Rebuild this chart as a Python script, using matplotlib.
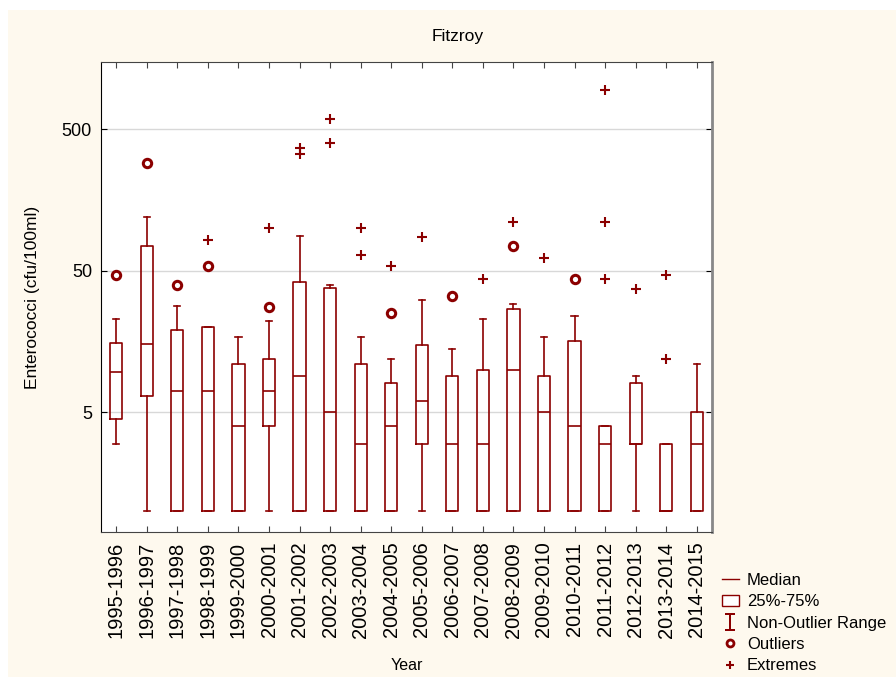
import matplotlib
matplotlib.use("Agg")
import matplotlib.pyplot as plt
from matplotlib.lines import Line2D
from matplotlib.patches import Rectangle
from matplotlib.ticker import FixedLocator, NullLocator

plt.rcParams['font.family'] = ['Liberation Sans', 'DejaVu Sans']

years = ['1995-1996', '1996-1997', '1997-1998', '1998-1999', '1999-2000',
         '2000-2001', '2001-2002', '2002-2003', '2003-2004', '2004-2005',
         '2005-2006', '2006-2007', '2007-2008', '2008-2009', '2009-2010',
         '2010-2011', '2011-2012', '2012-2013', '2013-2014', '2014-2015']
whislo = [3.0, 1, 1, 1, 1, 1, 1, 1, 1, 1, 1, 1, 1, 1, 1, 1, 1, 1, 1, 1]
q1 = [4.5, 6.5, 1, 1, 1, 4.0, 1, 1, 1, 1, 3.0, 1, 1, 1, 1, 1, 1, 3.0, 1, 1]
med = [9.6, 15.1, 7.07, 7.07, 4.0, 7.07, 9.0, 5.0, 3.0, 4.0,
       6.0, 3.0, 3.0, 10.0, 5.0, 4.0, 3.0, 3.0, 1.0, 3.0]
q3 = [15.5, 75, 19.1, 20, 11, 12, 42, 38, 11, 8,
      15, 9, 10, 27, 9, 16, 4, 8, 3, 5]
whishi = [23, 120, 28, 20, 17, 22, 88, 40, 17, 12,
          31, 14, 23, 29, 17, 24, 4, 9, 3, 11]

# (box number, value)
outlier_pos = [1, 2, 3, 4, 6, 10, 12, 14, 16]
outlier_val = [46.5, 288, 40, 54, 27.6, 25, 33, 75, 44]
extreme_pos = [4, 6, 7, 7, 8, 8, 9, 9, 10, 11, 13, 14, 15, 17, 17, 17, 18, 19, 19]
extreme_val = [82, 101, 333, 367, 402, 591, 65, 100, 54, 87, 44, 110, 62,
               44, 110, 950, 37, 12, 47]

red = '#8B0000'

fig = plt.figure(figsize=(8.96, 6.77), dpi=100)
fig.patch.set_facecolor('white')
fig.patches.append(Rectangle((8/896, 0), 1, 1 - 10/677, transform=fig.transFigure,
                             facecolor='#FEF9EE', edgecolor='none', zorder=-1))
ax = fig.add_axes([101/896, 1 - 532/677, 611/896, 470/677])
ax.set_facecolor('white')

stats = []
for i in range(len(years)):
    stats.append(dict(med=med[i], q1=q1[i], q3=q3[i], whislo=whislo[i],
                      whishi=whishi[i], label=years[i]))

pos = list(range(1, len(years) + 1))
lp = dict(color=red, linewidth=1.2)
ax.bxp(stats, positions=pos, widths=0.4, capwidths=0.2, showfliers=False,
       boxprops=lp, medianprops=lp, whiskerprops=lp, capprops=lp)

ax.plot(outlier_pos, outlier_val, 'o', color=red, markerfacecolor='white',
        markersize=6, markeredgewidth=2.2, linestyle='none', zorder=3)
ax.plot(extreme_pos, extreme_val, '+', color=red, markersize=7,
        markeredgewidth=1.5, linestyle='none', zorder=3)

ax.set_yscale('log')
ax.set_ylim(0.713, 1495)
ax.set_xlim(0.5, 20.5)
ax.yaxis.set_major_locator(FixedLocator([5, 50, 500]))
ax.yaxis.set_minor_locator(NullLocator())
ax.set_yticklabels(['5', '50', '500'], fontsize=13)
ax.set_xticks(pos)
ax.set_xticklabels(years, rotation=90, fontsize=14.5)
ax.grid(axis='y', color='#D8D8D8', linewidth=1)
ax.set_axisbelow(True)
ax.tick_params(axis='x', direction='in', length=4, top=True, bottom=True, pad=7,
               color='#444444')
ax.tick_params(axis='y', direction='in', length=4, left=True, right=True, pad=6.5)

ax.spines['left'].set_color('black')
ax.spines['top'].set_color('#444444')
ax.spines['bottom'].set_color('#444444')
ax.spines['right'].set_color('#888888')
ax.spines['right'].set_linewidth(2)

fig.text(458/896, 1 - 37/677, 'Fitzroy', ha='center', va='center', fontsize=12.5)
ax.set_ylabel('Enterococci (cfu/100ml)', fontsize=12.5, labelpad=16)
ax.set_xlabel('Year', fontsize=11.5, labelpad=14)

handles = [
    Line2D([], [], color=red, linewidth=1),
    Rectangle((0, 0), 1, 1, facecolor='white', edgecolor=red, linewidth=1),
    Line2D([], [], color=red, marker=r'$\mathtt{I}$', markersize=13,
           markeredgewidth=0, linestyle='none'),
    Line2D([], [], color=red, marker='o', markerfacecolor='white', markersize=5,
           markeredgewidth=2, linestyle='none'),
    Line2D([], [], color=red, marker='+', markersize=6, markeredgewidth=1.5,
           linestyle='none'),
]
labels = ['Median', '25%-75%', 'Non-Outlier Range', 'Outliers', 'Extremes']
fig.legend(handles, labels, loc='upper left', bbox_to_anchor=(722/896, 1 - 573/677),
           frameon=False, fontsize=12, handlelength=1.0, handletextpad=0.5,
           labelspacing=0.38, borderaxespad=0, borderpad=0)

fig.savefig('out.png', dpi=100)
